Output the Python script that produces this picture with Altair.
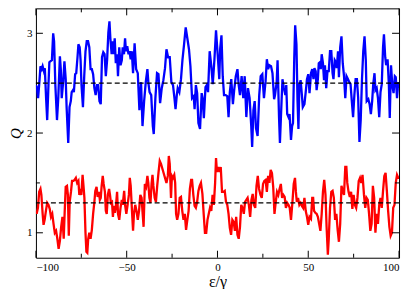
import altair as alt
import pandas as pd

# ---- data ----
blue_points = [
    (-100, 2.48), (-99.5, 2.46), (-98.8, 2.35), (-98.1, 2.51), (-97.5, 2.67), (-96.8, 2.64),
    (-96.3, 2.67), (-95.6, 2.62), (-95.1, 2.65), (-94.4, 2.35), (-93.8, 2.13), (-93.1, 2.48),
    (-92.6, 2.71), (-91.9, 2.72), (-91.2, 2.73), (-90.5, 3.00), (-90.0, 2.92), (-89.3, 2.48),
    (-88.4, 2.13), (-87.7, 2.35), (-86.8, 2.77), (-86.3, 2.64), (-85.8, 2.35), (-85.0, 2.51),
    (-84.3, 2.72), (-83.6, 2.54), (-83.1, 2.26), (-82.2, 1.90), (-81.5, 2.26), (-80.8, 2.32),
    (-80.3, 2.41), (-79.6, 2.43), (-79.1, 2.41), (-78.4, 2.59), (-77.8, 2.60), (-77.1, 2.76),
    (-76.6, 2.89), (-75.9, 2.86), (-75.4, 2.73), (-74.9, 2.48), (-74.1, 2.26), (-73.4, 2.57),
    (-72.7, 2.82), (-72.0, 2.92), (-71.3, 2.92), (-70.6, 2.86), (-69.9, 2.64), (-69.2, 2.64),
    (-68.5, 2.59), (-67.8, 2.45), (-67.1, 2.38), (-66.4, 2.48), (-65.7, 2.48), (-65.0, 2.32),
    (-64.3, 2.29), (-63.6, 2.76), (-62.9, 2.81), (-62.2, 2.79), (-61.5, 2.57), (-60.8, 2.73),
    (-60.1, 3.01), (-59.5, 3.12), (-59.0, 2.95), (-58.3, 2.79), (-57.8, 2.92), (-57.3, 2.79),
    (-56.6, 2.95), (-56.0, 2.70), (-55.3, 2.79), (-54.8, 2.57), (-54.1, 2.86), (-53.4, 2.68),
    (-52.7, 2.73), (-52.2, 2.86), (-51.5, 2.79), (-50.9, 2.95), (-50.4, 2.82), (-49.7, 2.87),
    (-49.0, 2.79), (-48.5, 2.82), (-47.8, 2.74), (-47.2, 2.82), (-46.5, 2.60), (-45.65, 2.90),
    (-44.8, 2.64), (-43.9, 2.60), (-43.0, 2.23), (-42.1, 2.51), (-41.3, 2.07), (-40.4, 2.32),
    (-39.5, 2.51), (-38.6, 2.64), (-38.1, 2.51), (-37.4, 2.41), (-36.5, 2.38), (-35.6, 2.07),
    (-35.1, 1.99), (-34.2, 2.35), (-33.3, 2.60), (-32.5, 2.59), (-31.6, 2.30), (-30.7, 2.45),
    (-29.8, 2.53), (-28.9, 2.65), (-28.1, 2.84), (-27.2, 2.76), (-26.3, 2.76), (-25.4, 2.51),
    (-24.5, 2.48), (-23.7, 2.35), (-23.1, 2.24), (-22.4, 2.38), (-21.9, 2.45), (-21.0, 2.41),
    (-20.1, 2.54), (-19.3, 2.73), (-18.4, 2.89), (-17.5, 3.06), (-16.6, 2.95), (-15.7, 2.84),
    (-14.9, 2.67), (-14.0, 2.35), (-13.1, 2.37), (-12.6, 2.24), (-11.9, 2.48), (-11.2, 2.40),
    (-10.5, 2.10), (-9.6, 2.04), (-8.7, 2.40), (-8.2, 2.35), (-7.5, 2.15), (-6.6, 2.46),
    (-5.9, 2.48), (-5.2, 2.41), (-4.3, 2.82), (-3.4, 2.67), (-2.6, 2.49), (-1.7, 2.73),
    (-0.8, 3.03), (0.1, 2.79), (1.0, 2.54), (1.5, 2.85), (2.2, 2.98), (2.9, 2.57),
    (3.6, 2.38), (4.5, 2.38), (5.4, 2.37), (6.1, 2.16), (6.8, 2.41), (7.6, 2.54),
    (8.5, 2.29), (9.2, 2.43), (10.1, 2.57), (11.0, 2.64), (11.7, 2.48), (12.4, 2.38),
    (13.3, 2.57), (14.2, 2.35), (15.0, 2.57), (15.9, 2.16), (16.8, 2.45), (17.7, 2.35),
    (18.6, 2.07), (19.1, 1.86), (19.8, 2.23), (20.5, 2.32), (21.2, 2.05), (22.1, 1.97),
    (23.0, 2.38), (23.8, 2.57), (24.7, 2.59), (25.6, 2.35), (26.5, 2.52), (27.2, 2.74),
    (27.9, 2.64), (28.6, 2.68), (29.5, 2.67), (30.3, 2.60), (31.2, 2.34), (31.7, 2.38),
    (32.6, 2.51), (33.1, 2.73), (33.9, 2.16), (34.4, 1.90), (35.3, 2.32), (35.8, 2.54),
    (36.5, 2.46), (37.4, 2.38), (37.9, 2.48), (38.4, 2.19), (39.1, 2.16), (39.7, 2.19),
    (40.5, 1.93), (41.1, 2.07), (41.6, 2.10), (42.3, 2.76), (42.8, 3.08), (43.5, 2.89),
    (44.1, 2.32), (44.6, 2.04), (45.1, 2.48), (45.8, 2.53), (46.5, 2.38), (47.0, 2.26),
    (47.9, 2.29), (48.6, 2.41), (49.3, 2.54), (50.0, 2.59), (50.7, 2.40), (51.5, 2.60),
    (52.2, 2.64), (52.9, 2.54), (53.4, 2.65), (54.1, 2.62), (54.6, 2.43), (55.3, 2.54),
    (55.8, 2.70), (56.4, 2.71), (56.9, 2.64), (57.4, 2.79), (58.1, 2.70), (58.7, 2.53),
    (59.2, 2.68), (59.9, 2.45), (60.6, 2.62), (61.3, 2.62), (62.0, 2.82), (62.7, 2.82),
    (63.4, 2.60), (63.9, 2.54), (64.6, 2.73), (65.2, 2.71), (65.7, 2.65), (66.4, 2.82),
    (66.9, 2.56), (67.6, 2.86), (68.3, 2.97), (69.0, 2.70), (69.7, 2.57), (70.4, 2.35),
    (71.1, 2.57), (71.9, 2.54), (72.6, 2.51), (73.3, 2.49), (74.0, 2.32), (74.7, 2.16),
    (75.4, 2.38), (76.1, 2.54), (76.8, 2.54), (77.5, 2.35), (78.2, 1.91), (78.9, 2.13),
    (79.6, 2.54), (80.3, 2.82), (81.0, 2.97), (81.7, 2.73), (82.2, 2.32), (83.1, 2.34),
    (83.8, 2.29), (84.5, 2.19), (85.2, 2.32), (85.8, 2.49), (86.5, 2.60), (87.0, 2.43),
    (87.7, 2.45), (88.4, 2.35), (89.1, 2.16), (89.8, 2.41), (90.5, 2.49), (91.2, 2.86),
    (91.7, 2.99), (92.4, 2.76), (92.9, 2.68), (93.7, 2.74), (94.4, 2.49), (94.9, 2.15),
    (95.6, 2.68), (96.3, 2.48), (97.0, 2.40), (97.7, 2.57), (98.2, 2.56), (98.9, 2.35),
    (99.6, 2.51), (100, 2.45),
]

red_points = [
    (-100, 1.22), (-99.6, 1.19), (-98.9, 1.25), (-98.2, 1.41), (-97.5, 1.44), (-97.0, 1.38),
    (-96.3, 1.19), (-95.8, 1.08), (-95.2, 1.13), (-94.5, 1.22), (-93.8, 1.30), (-93.1, 1.28),
    (-92.4, 1.24), (-91.7, 1.16), (-91.0, 1.19), (-90.3, 1.09), (-89.6, 1.00), (-88.9, 1.02),
    (-88.2, 0.94), (-87.5, 0.84), (-86.8, 0.92), (-86.1, 1.06), (-85.4, 1.16), (-84.7, 0.94),
    (-84.2, 1.19), (-83.6, 1.46), (-82.9, 1.47), (-82.4, 1.38), (-81.9, 0.97), (-81.4, 1.31),
    (-80.7, 1.41), (-80.1, 1.52), (-79.4, 1.52), (-78.7, 1.53), (-78.0, 1.55), (-77.3, 1.50),
    (-76.6, 1.52), (-76.1, 1.38), (-75.5, 1.41), (-75.0, 1.38), (-74.3, 1.58), (-73.8, 1.47),
    (-73.3, 1.35), (-72.7, 1.00), (-72.2, 0.81), (-71.7, 0.80), (-71.2, 0.94), (-70.6, 1.00),
    (-69.9, 0.94), (-69.2, 1.03), (-68.5, 1.19), (-67.8, 1.31), (-67.3, 1.42), (-66.6, 1.46),
    (-66.0, 1.36), (-65.3, 1.41), (-64.8, 1.33), (-64.3, 1.35), (-63.8, 1.47), (-63.2, 1.57),
    (-62.7, 1.49), (-62.0, 1.41), (-61.5, 1.22), (-61.0, 1.19), (-60.4, 1.38), (-59.7, 1.44),
    (-59.2, 1.38), (-58.7, 1.30), (-58.1, 1.31), (-57.6, 1.16), (-57.1, 1.27), (-56.5, 1.20),
    (-56.0, 1.25), (-55.3, 1.41), (-54.8, 1.19), (-54.1, 1.13), (-53.4, 1.25), (-52.7, 1.33),
    (-52.2, 1.28), (-51.4, 1.42), (-50.9, 1.28), (-50.2, 1.19), (-49.5, 1.28), (-48.8, 1.38),
    (-48.3, 1.55), (-47.8, 1.47), (-47.0, 1.19), (-46.5, 1.02), (-46.0, 1.19), (-45.3, 1.28),
    (-44.6, 1.22), (-43.9, 1.13), (-43.2, 1.22), (-42.5, 1.38), (-41.8, 1.35), (-41.2, 1.19),
    (-40.7, 1.06), (-40.0, 1.49), (-39.3, 1.46), (-38.6, 1.57), (-38.1, 1.50), (-37.5, 1.35),
    (-36.9, 1.30), (-36.3, 1.49), (-35.8, 1.58), (-35.3, 1.47), (-34.6, 1.35), (-33.9, 1.31),
    (-33.2, 1.47), (-32.5, 1.60), (-31.8, 1.72), (-31.1, 1.69), (-30.3, 1.64), (-28.1, 1.50),
    (-27.35, 1.57), (-26.8, 1.77), (-26.3, 1.69), (-25.6, 1.35), (-25.1, 1.57), (-24.5, 1.55),
    (-23.8, 1.58), (-23.3, 1.50), (-22.8, 1.19), (-22.2, 1.13), (-21.5, 1.19), (-20.8, 1.35),
    (-20.1, 1.36), (-19.4, 1.22), (-18.7, 1.13), (-18.0, 1.19), (-17.3, 1.03), (-16.6, 1.13),
    (-15.9, 1.22), (-15.2, 1.44), (-14.5, 1.53), (-14.0, 1.53), (-13.3, 1.38), (-12.6, 1.27),
    (-11.9, 1.25), (-11.2, 1.31), (-10.5, 1.42), (-9.8, 1.47), (-9.1, 1.50), (-8.3, 1.39),
    (-7.6, 1.19), (-6.9, 1.00), (-6.2, 1.00), (-5.5, 1.13), (-4.8, 1.19), (-4.1, 1.25),
    (-3.4, 1.22), (-2.7, 1.38), (-2.0, 1.28), (-1.3, 1.50), (-0.8, 1.75), (-0.3, 1.61),
    (0.4, 1.66), (1.1, 1.61), (1.8, 1.66), (2.5, 1.41), (3.3, 1.41), (4.0, 1.42),
    (4.7, 1.31), (5.4, 1.28), (6.1, 1.19), (6.8, 1.05), (7.5, 0.98), (8.2, 1.13),
    (8.9, 1.11), (9.6, 1.02), (10.3, 1.16), (11.0, 0.98), (11.7, 0.94), (12.4, 1.06),
    (13.1, 1.28), (13.8, 1.25), (14.5, 1.19), (15.2, 1.31), (15.9, 1.33), (16.6, 1.35),
    (17.3, 1.28), (18.0, 1.16), (18.7, 1.33), (19.4, 1.39), (20.1, 1.28), (20.8, 1.25),
    (21.5, 1.47), (22.2, 1.57), (22.9, 1.44), (23.7, 1.38), (24.4, 1.35), (25.1, 1.49),
    (25.8, 1.52), (26.5, 1.53), (27.2, 1.41), (27.9, 1.57), (28.6, 1.50), (29.3, 1.63),
    (30.0, 1.60), (30.7, 1.46), (31.4, 1.19), (32.1, 1.31), (32.8, 1.41), (33.5, 1.38),
    (34.2, 1.44), (34.9, 1.49), (35.6, 1.35), (36.3, 1.38), (37.0, 1.36), (37.7, 1.25),
    (38.4, 1.30), (39.1, 1.28), (39.8, 1.25), (40.5, 1.13), (41.3, 1.31), (42.0, 1.49),
    (42.7, 1.55), (43.2, 1.41), (43.7, 1.31), (44.4, 1.35), (45.1, 1.28), (45.8, 1.30),
    (46.5, 1.27), (47.2, 1.25), (47.9, 1.35), (48.6, 1.22), (49.3, 1.16), (50.0, 1.08),
    (50.7, 1.16), (51.5, 1.14), (52.2, 1.35), (52.7, 1.35), (53.2, 1.22), (53.9, 1.20),
    (54.6, 1.19), (55.3, 1.16), (56.0, 1.09), (56.7, 1.02), (57.4, 1.19), (58.1, 1.41),
    (58.8, 1.53), (59.5, 1.38), (60.1, 1.06), (60.8, 0.78), (61.3, 0.94), (62.0, 1.25),
    (62.7, 1.41), (63.4, 1.42), (64.1, 1.35), (64.8, 1.13), (65.5, 1.19), (66.2, 1.03),
    (66.9, 0.91), (67.6, 1.09), (68.3, 1.47), (69.0, 1.42), (69.7, 1.38), (70.4, 1.66),
    (71.0, 1.66), (71.5, 1.50), (72.2, 1.41), (72.9, 1.36), (73.6, 1.41), (74.3, 1.24),
    (75.0, 1.38), (75.7, 1.28), (76.4, 1.25), (77.1, 1.35), (77.8, 1.52), (78.5, 1.55),
    (79.2, 1.50), (79.9, 1.58), (80.7, 1.38), (81.4, 1.25), (82.1, 1.35), (82.8, 1.33),
    (83.5, 1.19), (84.2, 1.02), (84.9, 1.09), (85.6, 1.47), (86.3, 1.35), (87.0, 1.00),
    (87.7, 1.19), (88.4, 1.09), (89.1, 1.28), (89.8, 1.35), (90.5, 1.25), (91.2, 1.42),
    (91.9, 1.57), (92.6, 1.60), (93.3, 1.42), (94.0, 1.22), (94.7, 1.06), (95.4, 0.97),
    (96.1, 1.00), (96.8, 1.25), (97.5, 1.28), (98.2, 1.50), (98.9, 1.58), (99.6, 1.55),
    (100, 1.55),
]

mean_levels = [2.5, 1.3]
x_major = [-100, -50, 0, 50, 100]
x_minor = [-75, -25, 25, 75]
y_major = [1, 2, 3]
y_minor = [1.5, 2.5]
x_domain = [-100, 100]
y_domain = [0.75, 3.25]

W, H = 364, 250
FONT = "Liberation Serif"

blue_df = pd.DataFrame(blue_points, columns=["x", "y"])
red_df = pd.DataFrame(red_points, columns=["x", "y"])
means_df = pd.DataFrame({"y": mean_levels})
xt_major = pd.DataFrame({"x": x_major})
xt_minor = pd.DataFrame({"x": x_minor})
yt_major = pd.DataFrame({"y": y_major})
yt_minor = pd.DataFrame({"y": y_minor})

xs = alt.Scale(domain=x_domain, nice=False, zero=False)
ys = alt.Scale(domain=y_domain, nice=False, zero=False)

x_axis = alt.Axis(values=x_major, format="d", title="ε/γ", tickSize=0, domain=False,
                  grid=False, labelPadding=4, labelFont=FONT, labelFontSize=11,
                  labelColor="black", titleFont=FONT, titleFontSize=16,
                  titleFontWeight="normal", titleFontStyle="normal",
                  titleColor="black", titlePadding=1)
y_axis = alt.Axis(values=y_major, format="d", title="Q", tickSize=0, domain=False,
                  grid=False, labelPadding=4, labelFont=FONT, labelFontSize=11,
                  labelColor="black", titleFont=FONT, titleFontSize=15,
                  titleFontWeight="normal", titleFontStyle="italic",
                  titleColor="black", titlePadding=3)

blue_line = alt.Chart(blue_df).mark_line(color="#0000ff", strokeWidth=2.3, clip=True).encode(
    x=alt.X("x:Q", scale=xs, axis=x_axis),
    y=alt.Y("y:Q", scale=ys, axis=y_axis),
)
red_line = alt.Chart(red_df).mark_line(color="#ff0000", strokeWidth=2.3, clip=True).encode(
    x=alt.X("x:Q", scale=xs),
    y=alt.Y("y:Q", scale=ys),
)
mean_rules = alt.Chart(means_df).mark_rule(color="black", strokeWidth=1.2,
                                           strokeDash=[5, 3]).encode(
    y=alt.Y("y:Q", scale=ys),
)


def xticks(df, length, at_top):
    if at_top:
        enc = dict(y=alt.value(0), y2=alt.value(length))
    else:
        enc = dict(y=alt.value(H), y2=alt.value(H - length))
    return alt.Chart(df).mark_rule(color="black", strokeWidth=1).encode(
        x=alt.X("x:Q", scale=xs), **enc)


def yticks(df, length, at_right):
    if at_right:
        enc = dict(x=alt.value(W), x2=alt.value(W - length))
    else:
        enc = dict(x=alt.value(0), x2=alt.value(length))
    return alt.Chart(df).mark_rule(color="black", strokeWidth=1).encode(
        y=alt.Y("y:Q", scale=ys), **enc)


tick_layers = [
    xticks(xt_major, 7, False), xticks(xt_minor, 4, False),
    xticks(xt_major, 7, True), xticks(xt_minor, 4, True),
    yticks(yt_major, 7, False), yticks(yt_minor, 4, False),
    yticks(yt_major, 7, True), yticks(yt_minor, 4, True),
]

chart = alt.layer(
    blue_line, red_line, mean_rules, *tick_layers,
).properties(
    width=W, height=H,
    autosize=alt.AutoSizeParams(type="none"),
    padding={"left": 28, "top": 0, "right": 8, "bottom": 31},
    background="white",
).configure_view(
    stroke="black", strokeWidth=1,
)

chart.save("out.html", embed_options={"renderer": "svg", "actions": False})
